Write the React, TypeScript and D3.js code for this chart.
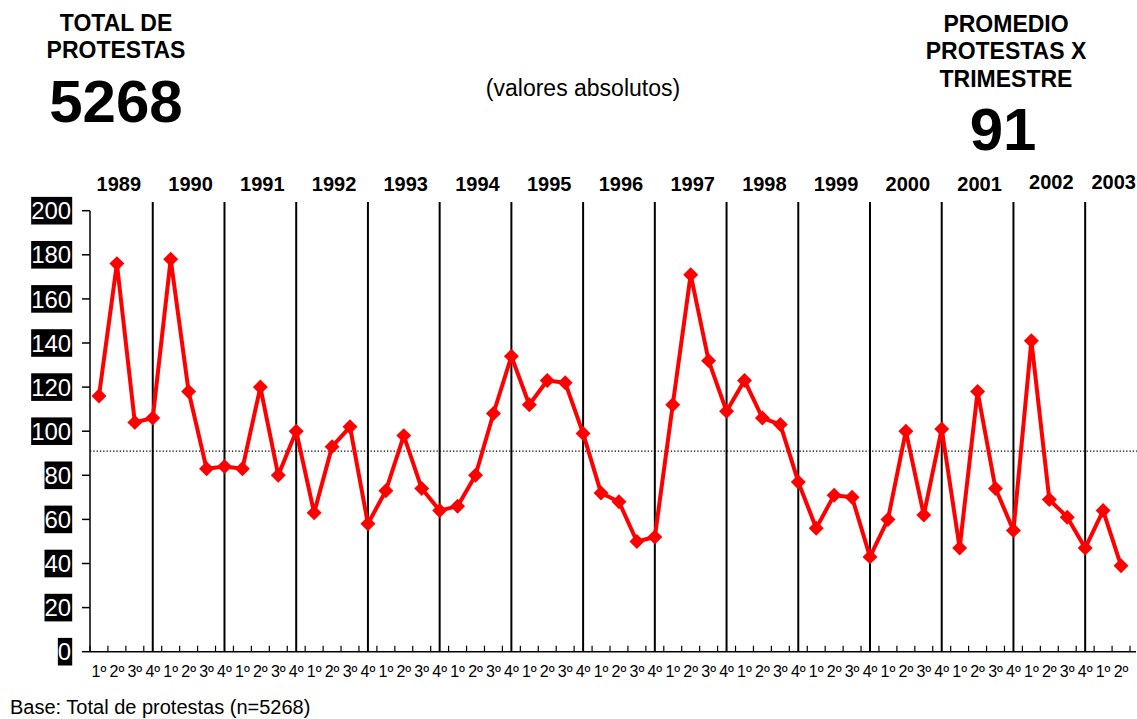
import React from "react";
import * as d3 from "d3";

const years = ["1989","1990","1991","1992","1993","1994","1995","1996","1997","1998","1999","2000","2001","2002","2003"];
const quarters = ["1º","2º","3º","4º"];
const values = [
  116, 176, 104, 106,
  178, 118, 83, 84,
  83, 120, 80, 100,
  63, 93, 102, 58,
  73, 98, 74, 64,
  66, 80, 108, 134,
  112, 123, 122, 99,
  72, 68, 50, 52,
  112, 171, 132, 109,
  123, 106, 103, 77,
  56, 71, 70, 43,
  60, 100, 62, 101,
  47, 118, 74, 55,
  141, 69, 61, 47,
  64, 39,
];
const yTicks = [0, 20, 40, 60, 80, 100, 120, 140, 160, 180, 200];
const average = 91;
const total = 5268;

const W = 1137;
const H = 719;
const FONT = "Liberation Sans, Arial, Helvetica, sans-serif";

export default function App() {
  const cats = values.map((_, i) => `${years[Math.floor(i / 4)]}-${quarters[i % 4]}`);
  const x = d3.scaleBand<string>().domain(cats).range([90, 1130]).paddingInner(0).paddingOuter(0);
  const bw = x.bandwidth();
  const cx = (i: number) => (x(cats[i]) as number) + bw / 2;
  const y = d3.scaleLinear().domain([0, 200]).range([651.7, 210.7]);

  const line = d3.line<number>().x((_, i) => cx(i)).y((d) => y(d)).curve(d3.curveLinear);
  const diamond = d3.symbol().type(d3.symbolSquare).size(112)() as string;

  const sepIdx: number[] = [];
  for (let i = 3; i < values.length; i += 4) sepIdx.push(i);

  const yearLabel = (k: number) => {
    const first = k * 4;
    const isLast = k === years.length - 1;
    if (isLast) return { x: W - 1, anchor: "end" as const };
    const xc = (x(cats[first]) as number) + 2 * bw - 7;
    return { x: xc, anchor: "middle" as const };
  };

  const boundaries = cats.map((c) => x(c) as number).concat([(x(cats[cats.length - 1]) as number) + bw]);

  return (
    <svg
      width={W}
      height={H}
      style={{ position: "absolute", left: 0, top: 0, background: "#fff" }}
      fontFamily={FONT}
    >
      <rect x={0} y={0} width={W} height={H} fill="#fff" />

      {/* Header */}
      <text x={116} y={31} textAnchor="middle" fontWeight="bold" fontSize={23}>TOTAL DE</text>
      <text x={116} y={58} textAnchor="middle" fontWeight="bold" fontSize={23}>PROTESTAS</text>
      <text x={116} y={122} textAnchor="middle" fontWeight="bold" fontSize={60}>{total}</text>

      <text x={583} y={96} textAnchor="middle" fontSize={23}>(valores absolutos)</text>

      <text x={1006} y={32} textAnchor="middle" fontWeight="bold" fontSize={23}>PROMEDIO</text>
      <text x={1006} y={59} textAnchor="middle" fontWeight="bold" fontSize={23}>PROTESTAS X</text>
      <text x={1006} y={87} textAnchor="middle" fontWeight="bold" fontSize={23}>TRIMESTRE</text>
      <text x={1003} y={150} textAnchor="middle" fontWeight="bold" fontSize={60}>{average}</text>

      {/* Year labels */}
      {years.map((yr, k) => {
        const p = yearLabel(k);
        return (
          <text key={yr} x={p.x} y={k >= 13 ? 189 : 191} textAnchor={p.anchor} fontWeight="bold" fontSize={20}>
            {yr}
          </text>
        );
      })}

      {/* Year separator lines */}
      {sepIdx.map((i) => (
        <line key={i} x1={cx(i)} x2={cx(i)} y1={202} y2={y(0)} stroke="#000" strokeWidth={2} />
      ))}

      {/* Y axis */}
      <line x1={90} x2={90} y1={y(200)} y2={y(0)} stroke="#000" strokeWidth={1.5} />
      {yTicks.map((t) => {
        const s = String(t);
        const fs = 24;
        const tw = s.length * 0.556 * fs;
        return (
          <g key={t}>
            <line x1={82} x2={90} y1={y(t)} y2={y(t)} stroke="#000" strokeWidth={1.5} />
            <rect x={71.7 - tw - 0.5} y={y(t) - 13.8} width={tw + 1} height={27.6} fill="#000" />
            <text x={71.2} y={y(t) + 8.6} textAnchor="end" fontSize={fs} fill="#fff">
              {s}
            </text>
          </g>
        );
      })}

      {/* X axis */}
      <line x1={90} x2={1136} y1={y(0)} y2={y(0)} stroke="#000" strokeWidth={1.5} />
      {boundaries.map((bx, i) => (
        <line key={i} x1={bx} x2={bx} y1={y(0) - 6} y2={y(0)} stroke="#000" strokeWidth={1.2} />
      ))}
      {cats.map((c, i) => (
        <text key={c} x={cx(i)} y={677} textAnchor="middle" fontSize={16}>
          {quarters[i % 4]}
        </text>
      ))}

      {/* Average dotted line */}
      <line x1={90} x2={1137} y1={y(average)} y2={y(average)} stroke="#000" strokeWidth={1.3} strokeDasharray="1.3 2" />

      {/* Series */}
      <path d={line(values) as string} fill="none" stroke="#FF0000" strokeWidth={4} strokeLinejoin="round" />
      {values.map((v, i) => (
        <path key={i} d={diamond} transform={`translate(${cx(i)},${y(v)}) rotate(45)`} fill="#FF0000" />
      ))}

      {/* Footer */}
      <text x={10} y={714} fontSize={20}>Base: Total de protestas (n=5268)</text>
    </svg>
  );
}
